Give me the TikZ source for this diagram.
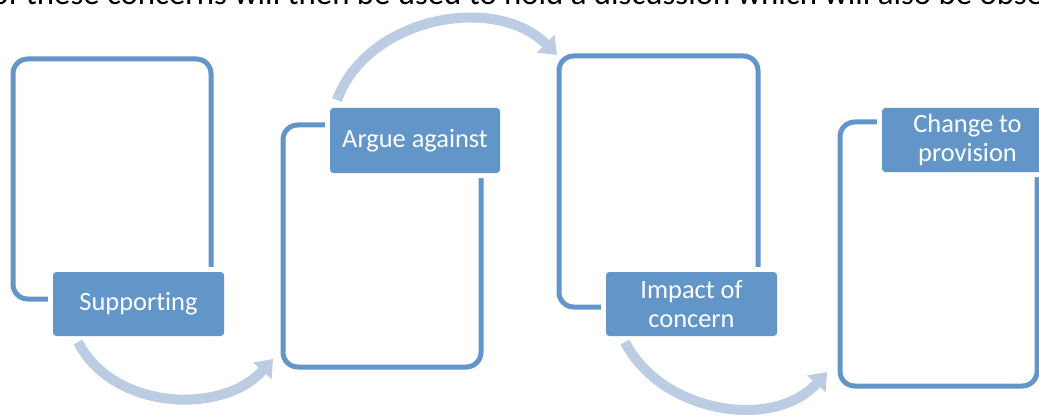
\documentclass[tikz,border=0pt]{standalone}
\usepackage{fontspec}
\setmainfont{Carlito}[Ligatures=CommonOff]
\usetikzlibrary{arrows.meta}
\definecolor{boxblue}{RGB}{99,150,200}
\definecolor{flowblue}{RGB}{188,204,226}
\begin{document}
\begin{tikzpicture}[x=0.75pt,y=0.75pt,
  outline/.style={draw=boxblue, line width=3.75pt, rounded corners=11pt, inner sep=0pt, outer sep=0pt},
  tag/.style={fill=boxblue, rounded corners=2.5pt, preaction={draw=white, line width=7.5pt}, text=white, align=center, inner sep=0pt, outer sep=0pt, minimum width=128.25pt, minimum height=48pt, font=\fontsize{19.8}{22}\selectfont},
  flow/.style={draw=flowblue, line width=7.5pt, -{Triangle[width=18pt,length=12pt]}}]

\useasboundingbox (0,0) rectangle (1039,415);
\clip (0,0) rectangle (1039,415);

% line of the page above, cut off
\node[anchor=base west, inner sep=0pt, font=\fontsize{24.6}{28}\selectfont] (head) at (-9,410) {of these concerns will then be used to hold a discussion which will also be observed};

\node[outline, minimum width=148.5pt, minimum height=180pt] (box1) at (112,236) {};
\node[outline, minimum width=148.5pt, minimum height=181.5pt] (box2) at (382,169) {};
\node[outline, minimum width=149.25pt, minimum height=188.25pt] (box3) at (658.5,233.5) {};
\node[outline, minimum width=147.75pt, minimum height=198pt] (box4) at (938.5,161) {};

\node[tag] (sup) at (138.5,111) {Supporting};
\node[tag, minimum width=127.5pt, minimum height=48.75pt] (arg) at (415,274.5) {Argue against};
\node[tag] (imp) at (691.5,111) {Impact of\\concern};
\node[tag] (chg) at (967.5,275) {Change to\\provision};

\draw[flow] ([shift={(25,-6)}]sup.south west) to[out=-63,in=228] ([shift={(-10,8)}]box2.south west);
\draw[flow] ([shift={(7,8)}]arg.north west) to[out=70,in=135] ([shift={(-2,1)}]box3.north west);
\draw[flow] ([shift={(19,-6)}]imp.south west) to[out=-63,in=228] ([shift={(-13,14)}]box4.south west);

\end{tikzpicture}
\end{document}
